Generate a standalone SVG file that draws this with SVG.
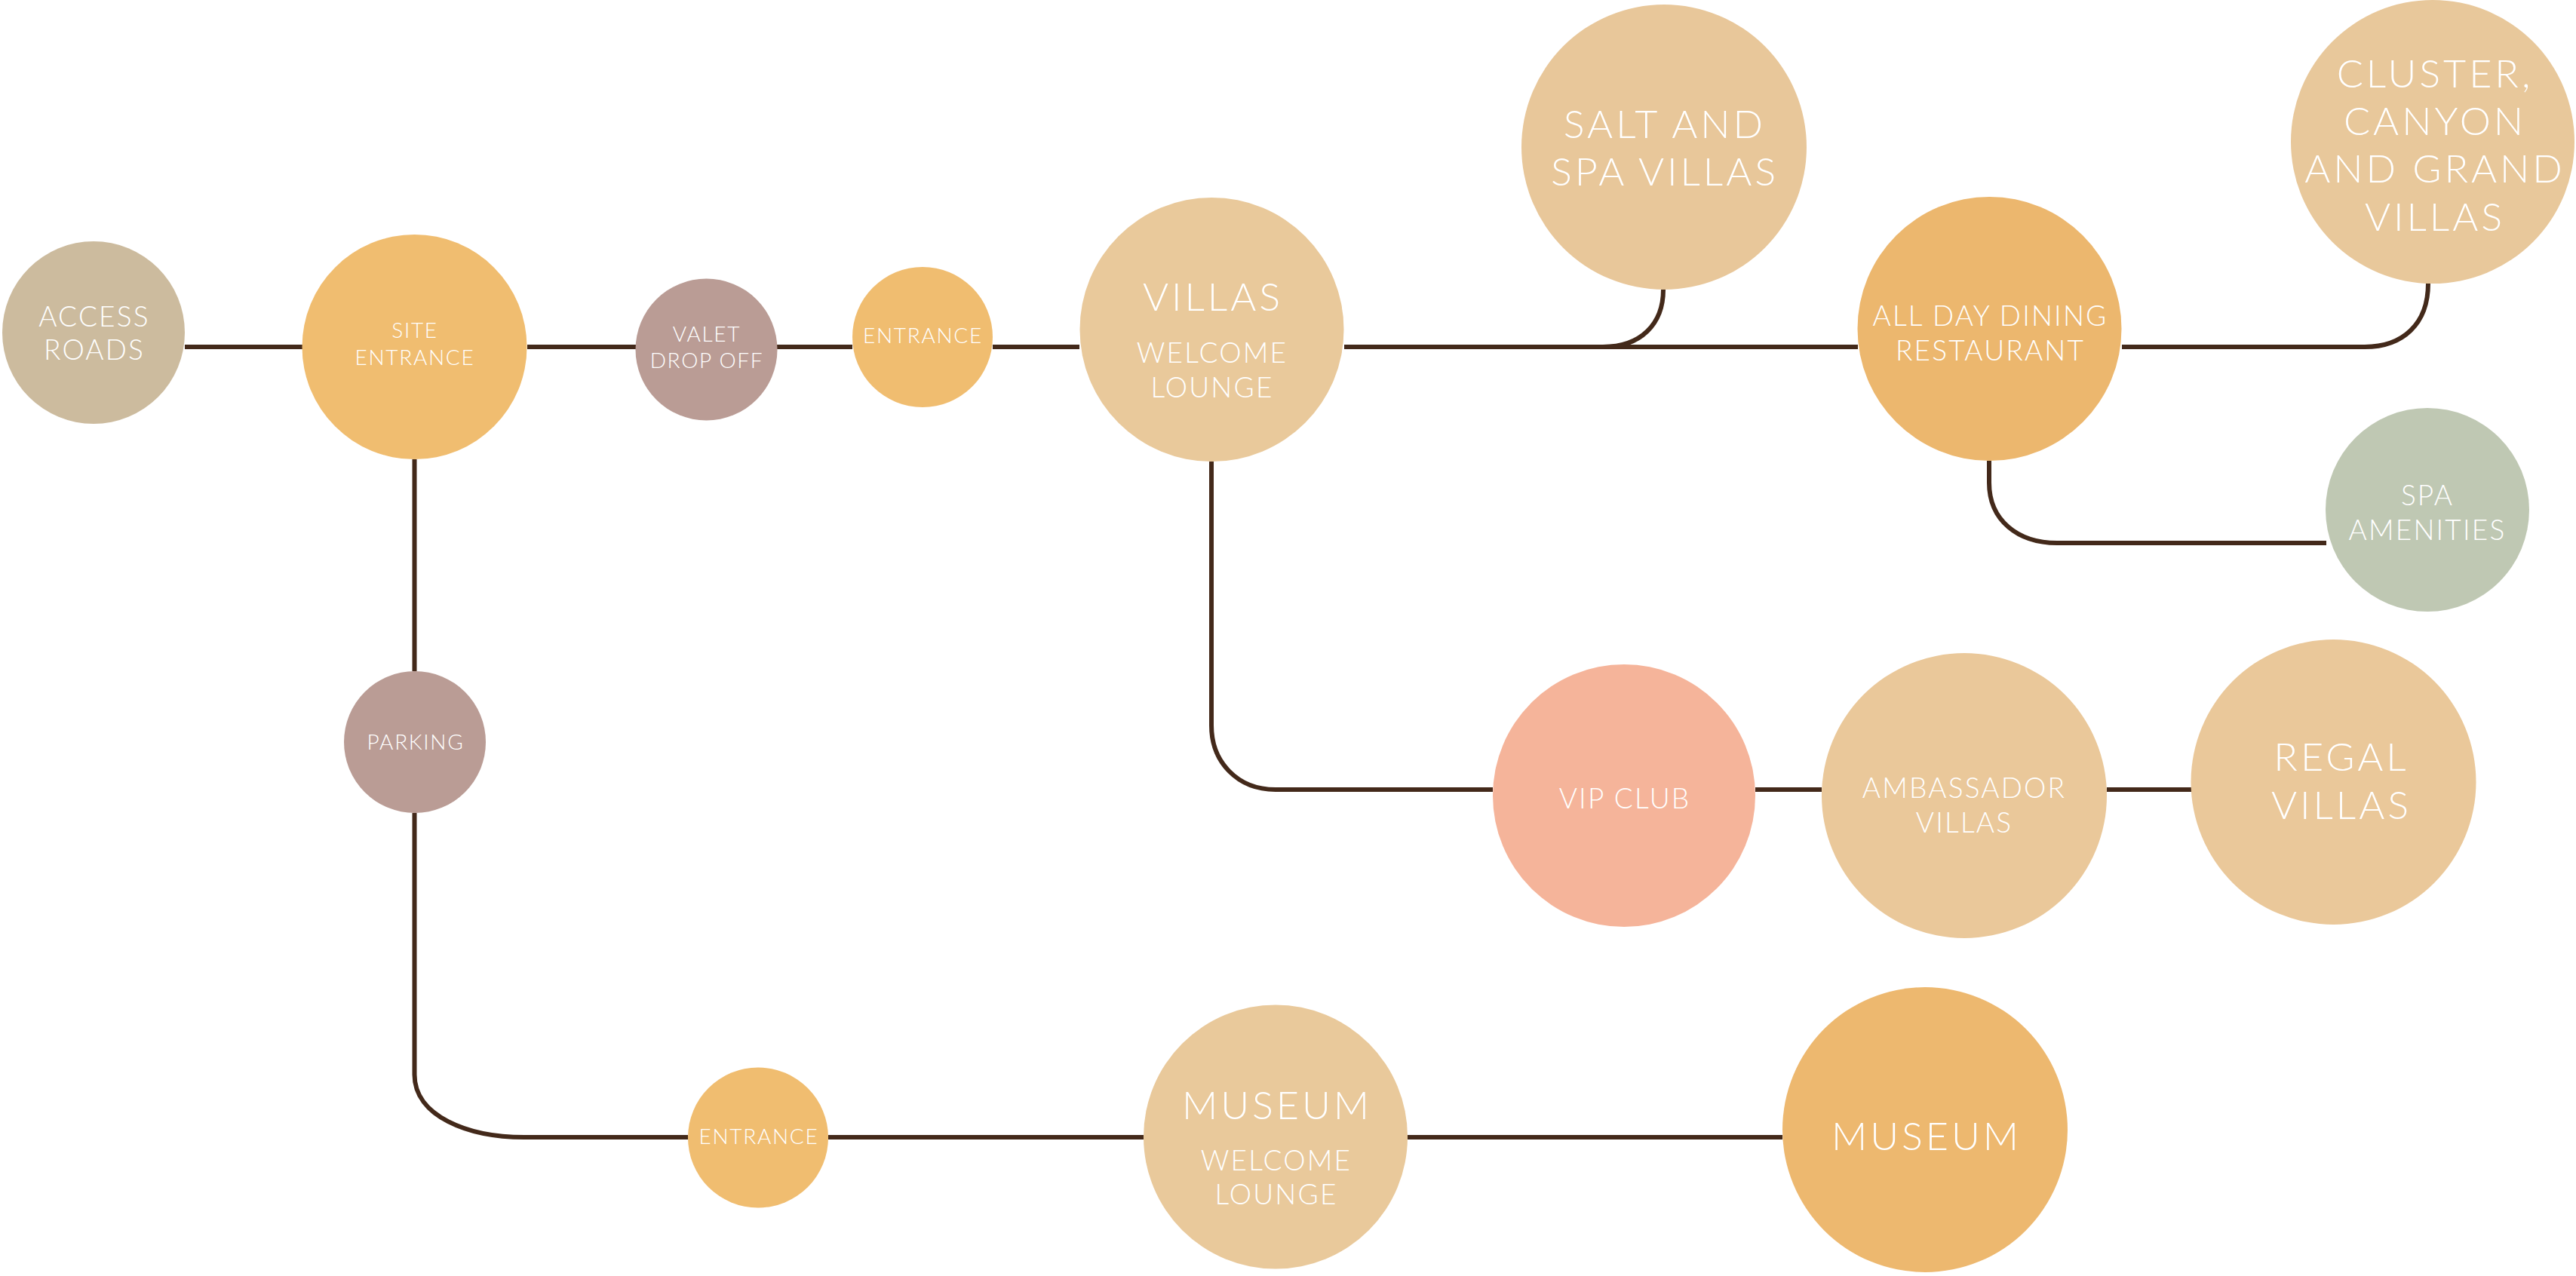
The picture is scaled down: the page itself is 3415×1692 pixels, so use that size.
<svg xmlns="http://www.w3.org/2000/svg" width="3415" height="1692" viewBox="0 0 3415 1692">
<style>
.c{fill:none;stroke:#43291A;stroke-width:6}
text{font-family:Lato,"Open Sans","Liberation Sans",sans-serif;font-weight:300;fill:#FFFFFF;text-anchor:middle}
.s{font-size:28px;letter-spacing:1.7px}
.m{font-size:37px;letter-spacing:2.2px}
.l{font-size:52px;letter-spacing:4px}
</style>
<rect width="3415" height="1692" fill="#FFFFFF"/>
<g id="connectors">
<path class="c" d="M245,460 H401"/>
<path class="c" d="M699,460 H843"/>
<path class="c" d="M1030,460 H1130"/>
<path class="c" d="M1316,460 H1431"/>
<path class="c" d="M1782,460 H2463"/>
<path class="c" d="M2205,384 C2205,430 2175,460 2125,460 H1934"/>
<path class="c" d="M2813,460 H3135 C3185,460 3219,430 3219,376"/>
<path class="c" d="M2637,611 V640 C2637,690 2675,720 2727,720 H3084"/>
<path class="c" d="M549.5,609 V890"/>
<path class="c" d="M549.5,1078 V1425 C549.5,1480 620,1508 695,1508 H912"/>
<path class="c" d="M1098,1508 H1516"/>
<path class="c" d="M1866,1508 H2363"/>
<path class="c" d="M1606,612 V962 C1606,1010 1640,1047 1691,1047 H1979"/>
<path class="c" d="M2327,1047 H2415"/>
<path class="c" d="M2793,1047 H2905"/>
</g>
<g id="access-roads"><circle cx="124" cy="441" r="121" fill="#CCBB9E"/><text class="m" x="125" y="433">ACCESS</text><text class="m" x="125" y="477">ROADS</text></g>
<g id="site-entrance"><circle cx="549.5" cy="460" r="149" fill="#F0BD70"/><text class="s" x="550" y="448">SITE</text><text class="s" x="550" y="484">ENTRANCE</text></g>
<g id="valet-drop-off"><circle cx="936.5" cy="463.5" r="94" fill="#BA9C95"/><text class="s" x="937" y="453">VALET</text><text class="s" x="937" y="488">DROP OFF</text></g>
<g id="entrance-villas"><circle cx="1223" cy="447" r="93" fill="#F0BD70"/><text class="s" x="1223.5" y="455">ENTRANCE</text></g>
<g id="villas-welcome-lounge"><circle cx="1606.5" cy="437" r="175" fill="#E9C99B"/><text class="l" x="1608" y="412">VILLAS</text><text class="m" x="1607" y="481">WELCOME</text><text class="m" x="1607" y="527">LOUNGE</text></g>
<g id="salt-spa-villas"><circle cx="2206" cy="195" r="189" fill="#E8C79A"/><text class="l" x="2207" y="183">SALT AND</text><text class="l" x="2207" y="246">SPA VILLAS</text></g>
<g id="all-day-dining"><circle cx="2637.5" cy="436" r="175" fill="#ECB76E"/><text class="m" x="2638.5" y="432">ALL DAY DINING</text><text class="m" x="2638.5" y="478">RESTAURANT</text></g>
<g id="cluster-canyon-grand"><circle cx="3225" cy="188" r="188" fill="#E8C89B"/><text class="l" x="3228" y="116">CLUSTER,</text><text class="l" x="3228" y="179">CANYON</text><text class="l" x="3228" y="242">AND GRAND</text><text class="l" x="3228" y="306">VILLAS</text></g>
<g id="spa-amenities"><circle cx="3218" cy="676" r="135" fill="#BFC8B3"/><text class="m" x="3218" y="670">SPA</text><text class="m" x="3218" y="716">AMENITIES</text></g>
<g id="parking"><circle cx="550" cy="984" r="94" fill="#BA9C95"/><text class="s" x="551" y="993.5">PARKING</text></g>
<g id="vip-club"><circle cx="2153" cy="1055" r="174" fill="#F5B49A"/><text class="m" x="2154" y="1072">VIP CLUB</text></g>
<g id="ambassador-villas"><circle cx="2604" cy="1055" r="189" fill="#EAC89A"/><text class="m" x="2604" y="1058">AMBASSADOR</text><text class="m" x="2604" y="1104">VILLAS</text></g>
<g id="regal-villas"><circle cx="3093.5" cy="1037" r="189" fill="#EAC89A"/><text class="l" x="3104" y="1022">REGAL</text><text class="l" x="3104" y="1086">VILLAS</text></g>
<g id="entrance-museum"><circle cx="1005" cy="1508.5" r="93" fill="#F0BD70"/><text class="s" x="1006" y="1516.5">ENTRANCE</text></g>
<g id="museum-welcome-lounge"><circle cx="1691" cy="1507.5" r="175" fill="#E9C99B"/><text class="l" x="1693" y="1484">MUSEUM</text><text class="m" x="1692" y="1552">WELCOME</text><text class="m" x="1692" y="1597">LOUNGE</text></g>
<g id="museum"><circle cx="2552" cy="1498" r="189" fill="#EDB86F"/><text class="l" x="2554" y="1525">MUSEUM</text></g>
</svg>
